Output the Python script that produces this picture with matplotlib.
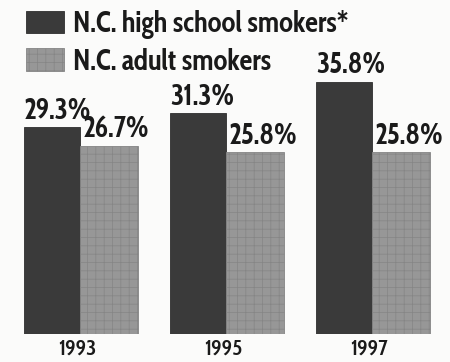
import matplotlib.pyplot as plt
import numpy as np

years = ["1993", "1995", "1997"]
high_school = [29.3, 31.3, 35.8]
adult = [26.7, 25.8, 25.8]
series_names = ["N.C. high school smokers*", "N.C. adult smokers"]

font = ["Cabin Condensed", "Fira Sans Condensed", "Liberation Sans", "DejaVu Sans"]
bg = "#fbfbfa"
ink = "#1a1a1a"
plt.rcParams["hatch.linewidth"] = 0.5

fig = plt.figure(figsize=(4.5, 3.62), dpi=100, facecolor=bg)
# bars stand on a baseline 28 px above the bottom edge
ax = fig.add_axes([0, 28 / 362, 1, 334 / 362])
ax.set_facecolor(bg)

x = np.arange(len(years))
gap = 146  # px between groups
ax.set_xlim(-80 / gap, (450 - 80) / gap)
ax.set_ylim(0, 334 / 7.05)

w1, w2 = 56 / gap, 58 / gap
b1 = ax.bar(x - w1, high_school, width=w1, align="edge", color="#3a3a3a",
            edgecolor="#2e2e2e", linewidth=0.6, label=series_names[0])
b2 = ax.bar(x, adult, width=w2, align="edge", color="#979797",
            edgecolor="#858585", linewidth=0.6, hatch="++", label=series_names[1])

for bars, vals, dx in [(b1, high_school, 0.0), (b2, adult, 0.02)]:
    for p, v in zip(bars, vals):
        ax.text(p.get_x() + dx, v + 1.2, f"{v}%", ha="left", va="baseline",
                fontsize=20.5, fontweight="bold", family=font, color=ink)

ax.set_xticks(x - 0.02)
ax.set_xticklabels(years, family=font, fontsize=16, fontweight="semibold", color=ink)
ax.tick_params(axis="x", length=0, pad=3)
ax.set_yticks([])
for s in ax.spines.values():
    s.set_visible(False)

leg = ax.legend(loc="upper left", bbox_to_anchor=(0.035, 1.0), frameon=False,
                prop={"family": font, "weight": "bold", "size": 20.5},
                handlelength=1.35, handleheight=0.85, handletextpad=0.3,
                labelspacing=0.3, borderaxespad=0.2, borderpad=0.15)
for t in leg.get_texts():
    t.set_color(ink)

fig.savefig("out.png", dpi=100, facecolor=bg)
